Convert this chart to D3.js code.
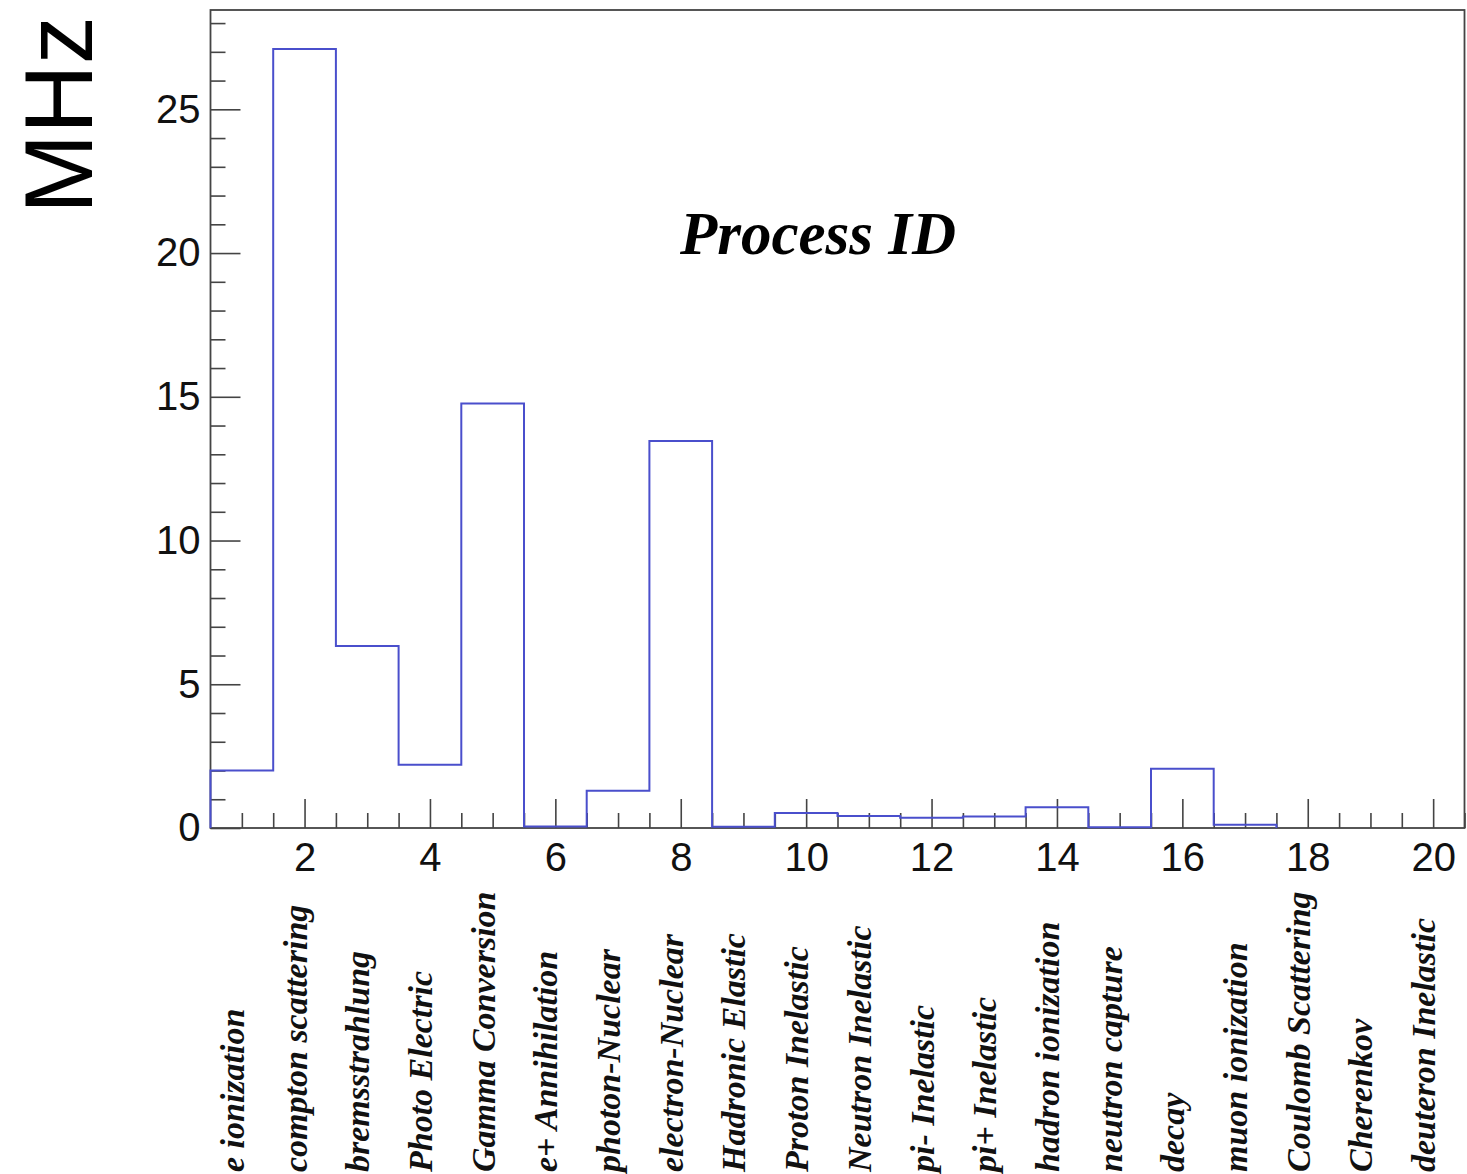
<!DOCTYPE html>
<html>
<head>
<meta charset="utf-8">
<script src="https://cdn.jsdelivr.net/npm/d3@7"></script>
<style>
	body { margin: 0; background: #fff; }
	svg { display: block; }
</style>
</head>
<body>
<div id="chart"></div>
<script>
// bin i+1 -> process name
const processNames = [
	'e ionization', 'compton scattering', 'bremsstrahlung', 'Photo Electric',
	'Gamma Conversion', 'e+ Annihilation', 'photon-Nuclear', 'electron-Nuclear',
	'Hadronic Elastic', 'Proton Inelastic', 'Neutron Inelastic', 'pi- Inelastic',
	'pi+ Inelastic', 'hadron ionization', 'neutron capture', 'decay',
	'muon ionization', 'Coulomb Scattering', 'Cherenkov', 'deuteron Inelastic'
]
const binIds = d3.range(1, 21)
// rate in MHz per process
const rates = [2.0, 27.1, 6.33, 2.2, 14.77, 0.05, 1.3, 13.46, 0.04, 0.52,
	0.42, 0.36, 0.40, 0.72, 0.03, 2.06, 0.11, 0, 0, 0]
const xTicksMajor = [2, 4, 6, 8, 10, 12, 14, 16, 18, 20]
const yTicksMajor = [0, 5, 10, 15, 20, 25]

const width = 1467
const height = 1174
const padding = { left: 210.5, right: 2.5, top: 10, bottom: 346 }

let svg = d3.select('#chart').append('svg')
	.attr('width', width)
	.attr('height', height)

let x = d3.scaleLinear()
	.domain([0.5, 20.5])
	.range([padding.left, width - padding.right])
let yMax = d3.max(rates) * 1.05
let y = d3.scaleLinear()
	.domain([0, yMax])
	.range([height - padding.bottom, padding.top])

const axisColor = '#444'
const x0 = padding.left, y0 = height - padding.bottom

// minor ticks every 0.5 on x, every 1 on y
let xMinor = d3.range(1, 20.51, 0.5).filter(d => !xTicksMajor.includes(d))
let yMinor = d3.range(0, 28.01, 1).filter(d => !yTicksMajor.includes(d))

let axes = svg.append('g').classed('axes', true)

axes.append('g')
	.attr('transform', `translate(0, ${y0})`)
	.call(d3.axisTop(x).tickValues(xMinor).tickSize(15).tickFormat(''))
axes.append('g')
	.attr('transform', `translate(0, ${y0})`)
	.call(d3.axisTop(x).tickValues(xTicksMajor).tickSize(29).tickFormat(''))
axes.append('g')
	.classed('x-labels', true)
	.attr('transform', `translate(0, ${y0})`)
	.call(d3.axisBottom(x).tickValues(xTicksMajor).tickSize(0).tickPadding(15).tickFormat(d => d))

axes.append('g')
	.attr('transform', `translate(${x0}, 0)`)
	.call(d3.axisRight(y).tickValues(yMinor).tickSize(15).tickFormat(''))
axes.append('g')
	.attr('transform', `translate(${x0}, 0)`)
	.call(d3.axisRight(y).tickValues(yTicksMajor).tickSize(30).tickFormat(''))
axes.append('g')
	.classed('y-labels', true)
	.attr('transform', `translate(${x0}, 0)`)
	.call(d3.axisLeft(y).tickValues(yTicksMajor).tickSize(0).tickPadding(10).tickFormat(d => d))

axes.selectAll('.domain').remove()
axes.selectAll('line')
	.attr('stroke', axisColor)
	.attr('stroke-width', 1.6)
axes.selectAll('text')
	.attr('fill', '#111')
	.style('font-family', '"Liberation Sans", Arial, sans-serif')
	.style('font-size', '40px')

// frame
svg.append('rect')
	.attr('x', x0)
	.attr('y', padding.top)
	.attr('width', width - padding.right - x0)
	.attr('height', y0 - padding.top)
	.attr('fill', 'none')
	.attr('stroke', axisColor)
	.attr('stroke-width', 1.8)

// histogram outline
let last = rates.length - 1
while (last > 0 && rates[last] === 0) last--
let pts = [[x(0.5), y(0)]]
for (let i = 0; i <= last; i++) {
	pts.push([x(binIds[i] - 0.5), y(rates[i])])
	pts.push([x(binIds[i] + 0.5), y(rates[i])])
}
pts.push([x(binIds[last] + 0.5), y(0)])

svg.append('path')
	.attr('d', d3.line()(pts))
	.attr('fill', 'none')
	.attr('stroke', '#4a4fcc')
	.attr('stroke-width', 2)

// process names under the axis
svg.append('g')
	.selectAll('text')
	.data(processNames)
	.enter()
	.append('text')
	.attr('transform', (d, i) => `translate(${x(binIds[i]) + 2}, ${height - 2}) rotate(-90)`)
	.attr('text-anchor', 'start')
	.attr('fill', '#111')
	.style('font-family', '"Liberation Serif", "Times New Roman", serif')
	.style('font-style', 'italic')
	.style('font-weight', 'bold')
	.style('font-size', '34px')
	.text(d => d)

// title inside the frame
svg.append('text')
	.attr('x', 818)
	.attr('y', 254)
	.attr('text-anchor', 'middle')
	.attr('fill', '#000')
	.style('font-family', '"Liberation Serif", "Times New Roman", serif')
	.style('font-style', 'italic')
	.style('font-weight', 'bold')
	.style('font-size', '61px')
	.text('Process ID')

// y axis unit
svg.append('text')
	.attr('transform', 'translate(92, 115) rotate(-90)')
	.attr('text-anchor', 'middle')
	.attr('fill', '#000')
	.style('font-family', '"Liberation Sans", Arial, sans-serif')
	.style('font-size', '96px')
	.text('MHz')
</script>
</body>
</html>
